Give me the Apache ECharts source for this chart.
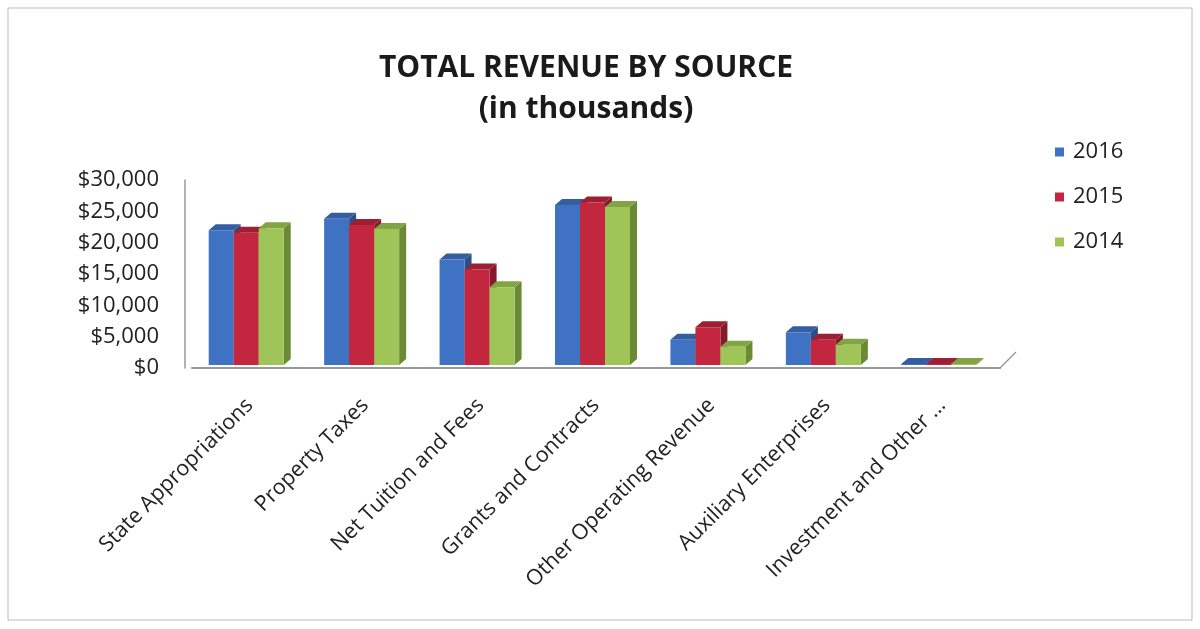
<!DOCTYPE html>
<html lang="en">
<head>
    <meta charset="utf-8">
    <title>Total Revenue by Source</title>
    <script src="https://cdn.jsdelivr.net/npm/echarts@6/dist/echarts.min.js"></script>
    <style>
        html, body { margin: 0; padding: 0; background: #fff; }
        #main { width: 1200px; height: 629px; }
    </style>
</head>
<body>
<div id="main"></div>

<script type="text/javascript">
    // data (thousands of dollars)
    var categories = ['State Appropriations', 'Property Taxes', 'Net Tuition and Fees',
        'Grants and Contracts', 'Other Operating Revenue', 'Auxiliary Enterprises', 'Investment and Other ...'];
    var years = ['2016', '2015', '2014'];
    var rev2016 = [22000, 23800, 17300, 26000, 4500, 5700, 200];
    var rev2015 = [21600, 22800, 15700, 26400, 6500, 4500, 300];
    var rev2014 = [22300, 22200, 12900, 25700, 3400, 3700, 200];
    var yTicks = [0, 5000, 10000, 15000, 20000, 25000, 30000];

    var colors = ['#3f72c2', '#c2273f', '#9fc457'];
    var sides = ['#2a4f8c', '#851a2b', '#6b8a36'];
    var tops = ['#335e9f', '#9c1f34', '#82a444'];

    var barW = 25, dx = 7, dy = -6;

    // 3D-looking bar drawn from the axis scales
    function makeRender(s) {
        return function (params, api) {
            var ci = api.value(0);
            var top = api.coord([ci, api.value(1)]);
            var base = api.coord([ci, 0]);
            var x0 = top[0] + (s - 1.5) * barW - dx / 2;
            var y0 = top[1], y1 = base[1] - 3;
            if (y0 > y1 - 1) y0 = y1 - 1;
            return {
                type: 'group',
                children: [
                    { type: 'polygon', shape: { points: [[x0 + barW, y0], [x0 + barW + dx, y0 + dy], [x0 + barW + dx, y1 + dy], [x0 + barW, y1]] },
                      style: { fill: sides[s] } },
                    { type: 'polygon', shape: { points: [[x0, y0], [x0 + dx, y0 + dy], [x0 + barW + dx, y0 + dy], [x0 + barW, y0]] },
                      style: { fill: tops[s] } },
                    { type: 'rect', shape: { x: x0, y: y0, width: barW, height: y1 - y0 },
                      style: { fill: colors[s] } }
                ]
            };
        };
    }

    var allData = [rev2016, rev2015, rev2014];
    var series = allData.map(function (arr, s) {
        return {
            name: years[s],
            type: 'custom',
            renderItem: makeRender(s),
            itemStyle: { color: colors[s] },
            encode: { x: 0, y: 1 },
            data: arr.map(function (v, i) { return [i, v]; })
        };
    });

    var frame = {
        type: 'rect',
        shape: { x: 8, y: 8, width: 1184, height: 612 },
        style: { fill: 'none', stroke: '#bbb', lineWidth: 1 },
        silent: true
    };

    var myChart = echarts.init(document.getElementById('main'));

    myChart.setOption({
        animation: false,
        textStyle: { fontFamily: 'Open Sans' },
        title: {
            text: 'TOTAL REVENUE BY SOURCE\n(in thousands)',
            left: 581,
            textAlign: 'center',
            top: 43,
            textStyle: { fontSize: 30, fontWeight: 'bold', color: '#1a1a1a', lineHeight: 41, fontFamily: 'Open Sans' }
        },
        legend: {
            orient: 'vertical',
            left: 1050,
            top: 136,
            itemGap: 23,
            itemWidth: 9,
            itemHeight: 9,
            icon: 'rect',
            textStyle: { fontSize: 22, color: '#222', padding: [0, 0, 0, 4] },
            data: years
        },
        graphic: [frame],
        grid: { left: 192, right: 200, top: 180, bottom: 261 },
        xAxis: {
            type: 'category',
            data: categories,
            axisTick: { show: false },
            axisLine: { lineStyle: { color: '#999', width: 2 } },
            axisLabel: { rotate: 45, fontSize: 21.5, color: '#222', margin: 34, interval: 0 }
        },
        yAxis: {
            type: 'value',
            min: yTicks[0],
            max: yTicks[yTicks.length - 1],
            interval: 5000,
            offset: 7,
            splitLine: { show: false },
            axisLine: { show: true, lineStyle: { color: '#999', width: 1.5 } },
            axisTick: { show: false },
            axisLabel: {
                fontSize: 22, color: '#222', margin: 26,
                formatter: function (v) { return '$' + v.toLocaleString('en-US'); }
            }
        },
        series: series
    });

    // short slanted floor edge at the right end of the category axis
    var n = categories.length;
    var pLast = myChart.convertToPixel({ gridIndex: 0 }, [n - 1, 0]);
    var pPrev = myChart.convertToPixel({ gridIndex: 0 }, [n - 2, 0]);
    var endX = pLast[0] + (pLast[0] - pPrev[0]) / 2;
    myChart.setOption({
        graphic: [frame, {
            type: 'line',
            shape: { x1: endX, y1: pLast[1], x2: endX + 16, y2: pLast[1] - 16 },
            style: { stroke: '#999', lineWidth: 1.5 },
            silent: true
        }]
    });
</script>
</body>
</html>
